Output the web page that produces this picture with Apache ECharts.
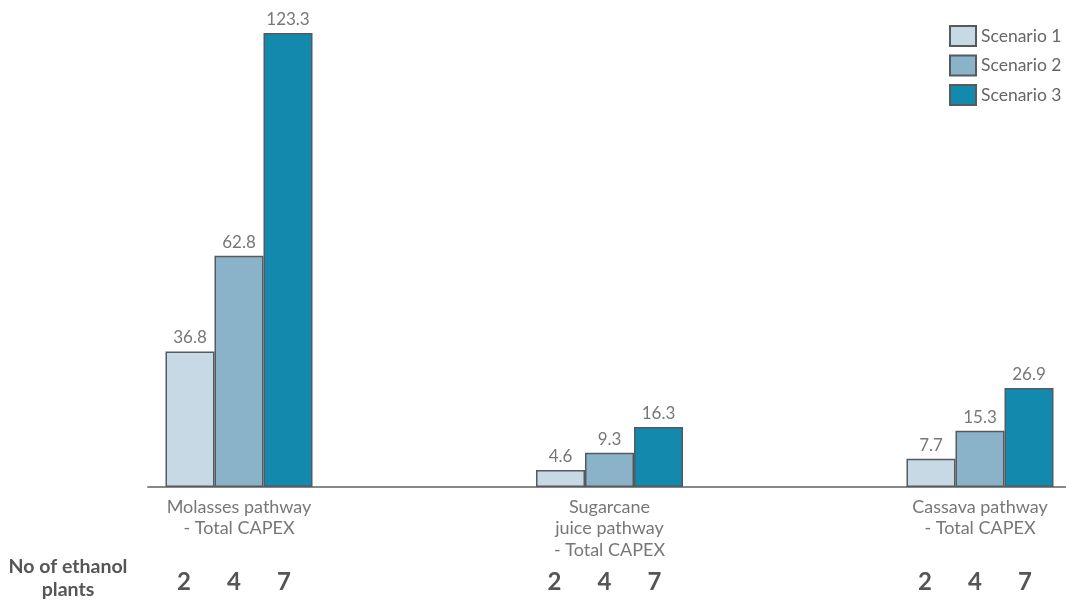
<!DOCTYPE html>
<html>
<head>
<meta charset="utf-8">
<script src="https://cdn.jsdelivr.net/npm/echarts@6/dist/echarts.min.js"></script>
<style>html,body{margin:0;padding:0;background:#fff}#c{width:1066px;height:600px}</style>
</head>
<body>
<div id="c"></div>
<script>
const categories = ['Molasses pathway\n- Total CAPEX', 'Sugarcane\njuice pathway\n- Total CAPEX', 'Cassava pathway\n- Total CAPEX'];
const seriesNames = ['Scenario 1', 'Scenario 2', 'Scenario 3'];
const scenario1 = [36.8, 4.6, 7.7];
const scenario2 = [62.8, 9.3, 15.3];
const scenario3 = [123.3, 16.3, 26.9];
const plantCounts = [2, 4, 7];
const rowTitle = 'No of ethanol\nplants';

const colors = ['#c8d9e6', '#8ab2c9', '#1289ad'];
const FONT = 'Lato, "Open Sans", sans-serif';

function catLabel(v) {
  const lines = v.split('\n');
  while (lines.length < 3) lines.push('');
  return lines.join('\n') + '\n' + plantCounts.map(n => '{n|' + n + '}').join('') + '{s|}';
}

const chart = echarts.init(document.getElementById('c'), null, {renderer: 'canvas'});
const mk = (name, data, i) => ({
  name, type: 'bar', data, xAxisIndex: 0, yAxisIndex: 0,
  barWidth: 49, barGap: '0%', clip: false,
  itemStyle: {color: colors[i], borderColor: '#555a5e', borderWidth: 1.5},
  label: {show: true, position: 'top', distance: 5, color: '#777', fontSize: 17, fontFamily: FONT},
  emphasis: {disabled: true}
});
chart.setOption({
  animation: false,
  textStyle: {fontFamily: FONT},
  grid: [
    {left: 239, right: 86, top: 8.3, bottom: 113, containLabel: false, outerBoundsMode: 'none'},
    {left: 148, right: 0, top: 8.3, bottom: 113, containLabel: false, outerBoundsMode: 'none'}
  ],
  legend: {
    orient: 'vertical', left: 949, top: 25, padding: 0,
    icon: 'rect',
    itemWidth: 26, itemHeight: 20, itemGap: 7.5,
    textStyle: {color: '#666', fontSize: 17.5, fontFamily: FONT},
    data: seriesNames
  },
  xAxis: [
    {
      type: 'category', gridIndex: 0, data: categories, boundaryGap: false,
      axisLine: {show: false}, axisTick: {show: false},
      axisLabel: {
        interval: 0, margin: 9, color: '#777', fontSize: 18, lineHeight: 21.5, fontFamily: FONT,
        formatter: catLabel,
        rich: {
          n: {fontSize: 24, fontWeight: 'bold', color: '#555', width: 50, align: 'center', lineHeight: 44, fontFamily: FONT},
          s: {width: 10}
        }
      }
    },
    {
      type: 'category', gridIndex: 1, data: [''],
      axisLine: {show: true, lineStyle: {color: '#888', width: 2}},
      axisTick: {show: false}, axisLabel: {show: false}
    }
  ],
  yAxis: [
    {type: 'value', gridIndex: 0, min: 0, max: 130, show: false},
    {type: 'value', gridIndex: 1, min: 0, max: 130, show: false}
  ],
  graphic: [{
    type: 'text', x: 68, y: 555.5,
    style: {text: rowTitle, textAlign: 'center', textVerticalAlign: 'top', fill: '#555', font: 'bold 19.5px ' + FONT, lineHeight: 23}
  }],
  series: [mk(seriesNames[0], scenario1, 0), mk(seriesNames[1], scenario2, 1), mk(seriesNames[2], scenario3, 2)]
});
</script>
</body>
</html>
